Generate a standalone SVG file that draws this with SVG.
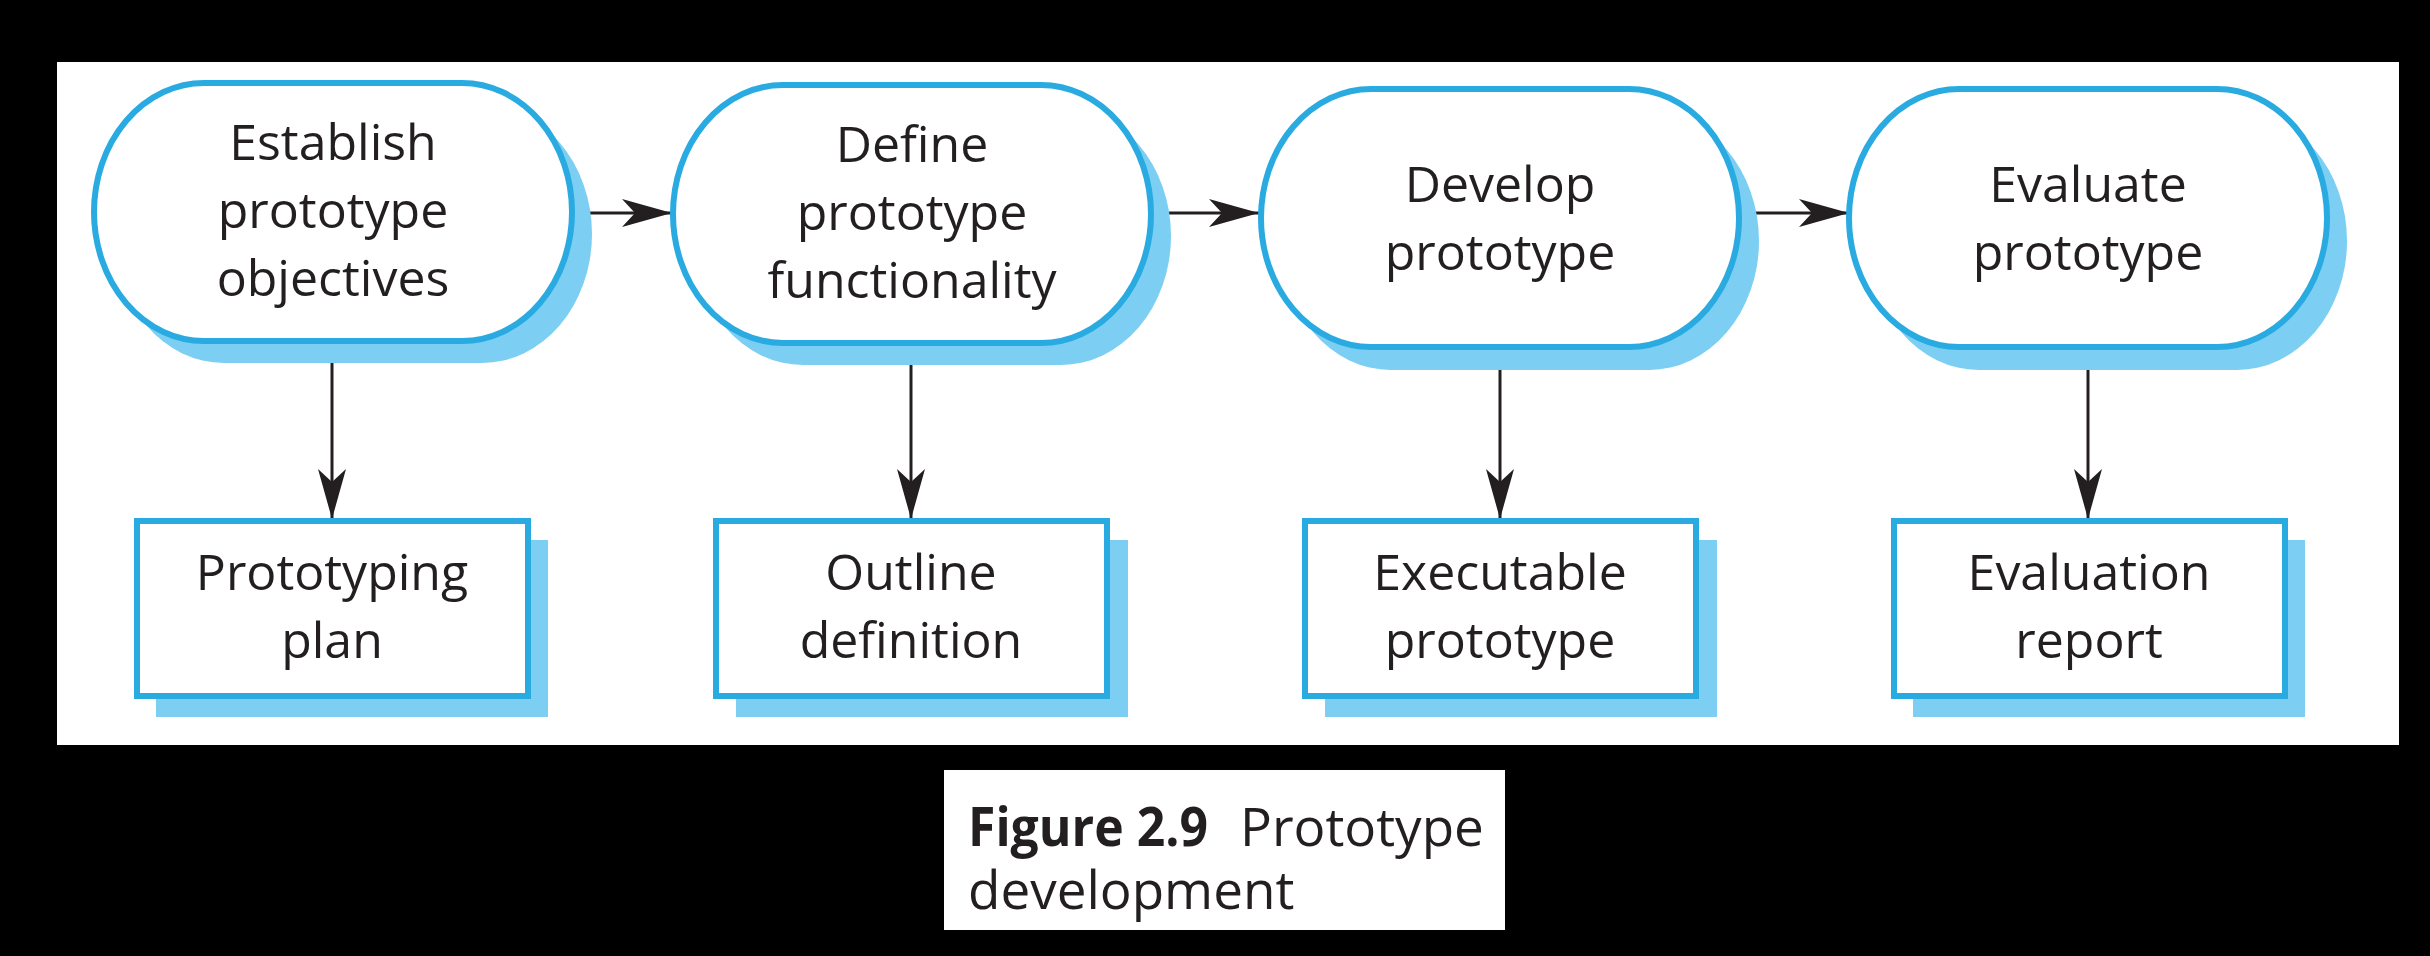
<svg xmlns="http://www.w3.org/2000/svg" width="2430" height="956" viewBox="0 0 2430 956">
<defs>
<style>
.bg{fill:#000}
.panel{fill:#fff}
.sh{fill:#7ccff2}
.st{fill:#fff;stroke:#29abe2;stroke-width:6}
.t{font-family:"Open Sans","Noto Sans",sans-serif;font-size:50px;fill:#231f20;text-anchor:middle}
.cap{font-family:"Open Sans","Noto Sans",sans-serif;font-size:53px;fill:#231f20}
.b{font-weight:700}
.ln{stroke:#231f20;stroke-width:3;fill:none;marker-end:url(#ah)}
</style>
<marker id="ah" viewBox="0 0 50 28" refX="50" refY="14" markerWidth="50" markerHeight="28" orient="auto" markerUnits="userSpaceOnUse">
<path d="M0,0 L50,14 L0,28 L13,14 Z" fill="#231f20"/>
</marker>
</defs>
<rect class="bg" x="0" y="0" width="2430" height="956"/>
<rect class="panel" x="57" y="62" width="2342" height="683"/>
<rect class="panel" x="944" y="770" width="561" height="160"/>

<g id="connectors">
<line class="ln" x1="574" y1="213" x2="672" y2="213"/>
<line class="ln" x1="1152" y1="213" x2="1259" y2="213"/>
<line class="ln" x1="1741" y1="213" x2="1849" y2="213"/>
<line class="ln" x1="332" y1="341" x2="332" y2="519"/>
<line class="ln" x1="911" y1="343" x2="911" y2="519"/>
<line class="ln" x1="1500" y1="348" x2="1500" y2="519"/>
<line class="ln" x1="2088" y1="348" x2="2088" y2="519"/>
</g>

<g id="n1">
<rect class="sh" x="114" y="105" width="478" height="258" rx="110" ry="129"/>
<rect class="st" x="94" y="83" width="478" height="258" rx="110" ry="129"/>
<text class="t" x="333" y="160">Establish</text>
<text class="t" x="333" y="228">prototype</text>
<text class="t" x="333" y="296">objectives</text>
</g>
<g id="n2">
<rect class="sh" x="693" y="107" width="478" height="258" rx="110" ry="129"/>
<rect class="st" x="673" y="85" width="478" height="258" rx="110" ry="129"/>
<text class="t" x="912" y="162">Define</text>
<text class="t" x="912" y="230">prototype</text>
<text class="t" x="912" y="298">functionality</text>
</g>
<g id="n3">
<rect class="sh" x="1281" y="112" width="478" height="258" rx="110" ry="129"/>
<rect class="st" x="1261" y="89" width="478" height="258" rx="110" ry="129"/>
<text class="t" x="1500" y="202">Develop</text>
<text class="t" x="1500" y="270">prototype</text>
</g>
<g id="n4">
<rect class="sh" x="1869" y="112" width="478" height="258" rx="110" ry="129"/>
<rect class="st" x="1849" y="89" width="478" height="258" rx="110" ry="129"/>
<text class="t" x="2088" y="202">Evaluate</text>
<text class="t" x="2088" y="270">prototype</text>
</g>

<g id="b1">
<rect class="sh" x="156" y="540" width="392" height="177"/>
<rect class="st" x="137" y="521" width="391" height="175"/>
<text class="t" x="332" y="590">Prototyping</text>
<text class="t" x="332" y="658">plan</text>
</g>
<g id="b2">
<rect class="sh" x="736" y="540" width="392" height="177"/>
<rect class="st" x="716" y="521" width="391" height="175"/>
<text class="t" x="911" y="590">Outline</text>
<text class="t" x="911" y="658">definition</text>
</g>
<g id="b3">
<rect class="sh" x="1325" y="540" width="392" height="177"/>
<rect class="st" x="1305" y="521" width="391" height="175"/>
<text class="t" x="1500" y="590">Executable</text>
<text class="t" x="1500" y="658">prototype</text>
</g>
<g id="b4">
<rect class="sh" x="1913" y="540" width="392" height="177"/>
<rect class="st" x="1894" y="521" width="391" height="175"/>
<text class="t" x="2089" y="590">Evaluation</text>
<text class="t" x="2089" y="658">report</text>
</g>

<g id="caption">
<text class="cap" x="968" y="846"><tspan class="b" textLength="240" lengthAdjust="spacingAndGlyphs">Figure 2.9</tspan><tspan x="1240">Prototype</tspan><tspan x="968" dy="63">development</tspan></text>
</g>
</svg>
